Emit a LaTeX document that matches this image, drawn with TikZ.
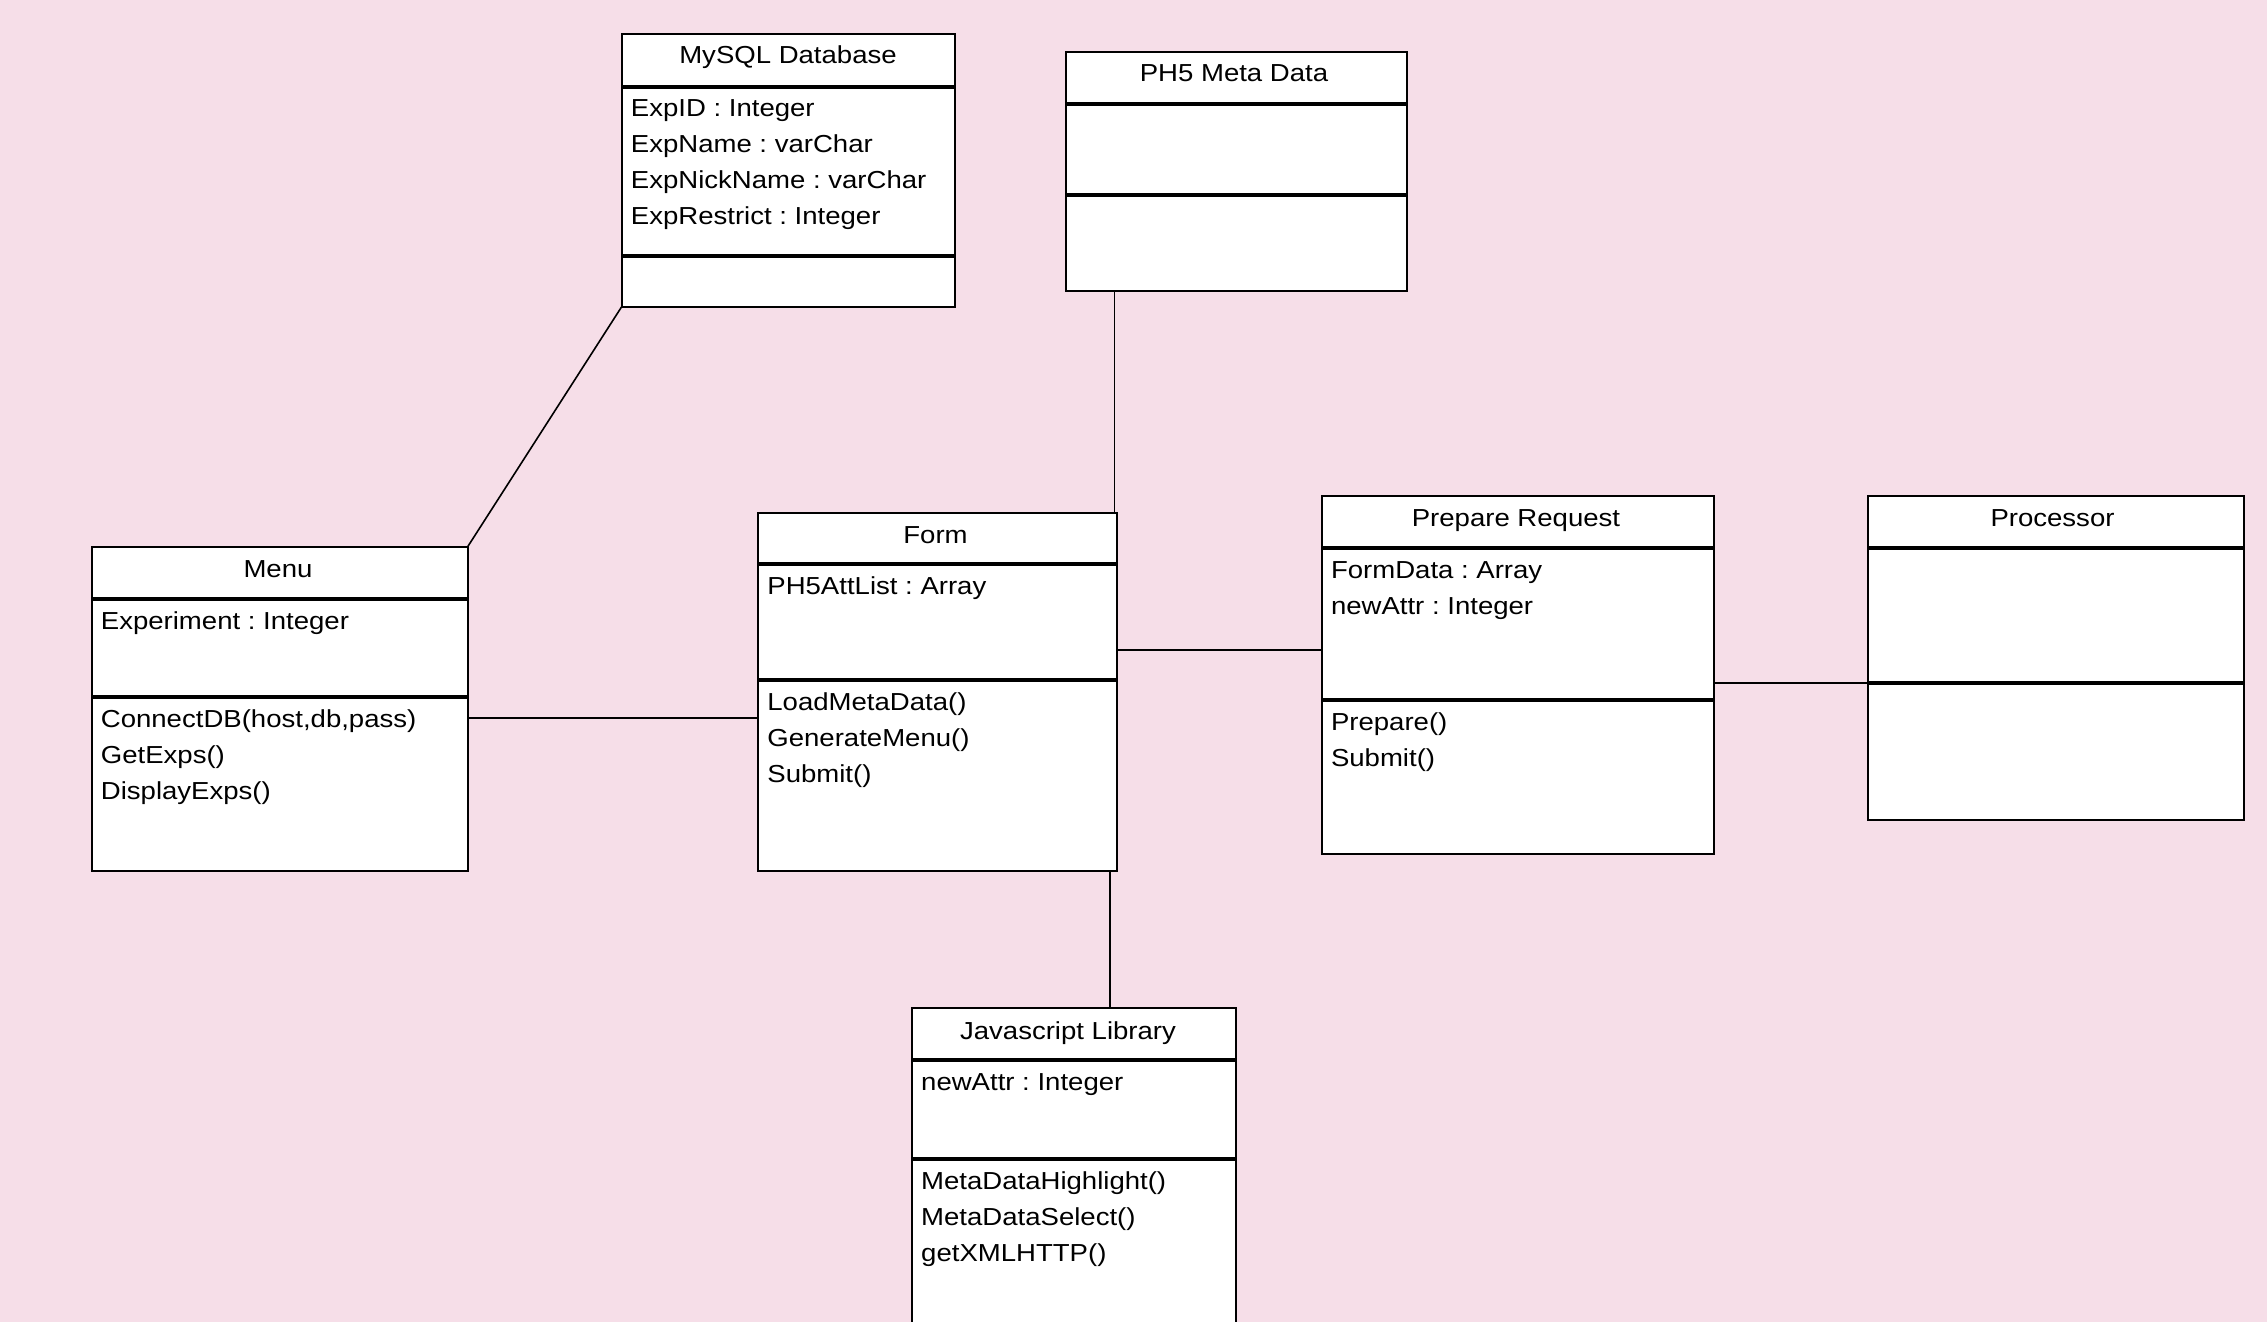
\documentclass[tikz,border=0pt]{standalone}
\usepackage{fontspec}
\setmainfont{Liberation Sans}[FakeStretch=1.12]
\usetikzlibrary{calc}
\definecolor{pagepink}{RGB}{246,222,232}
\frenchspacing
\begin{document}
\begin{tikzpicture}[x=0.5pt,y=-0.5pt,
  classbox/.style={draw=black, line width=1pt, fill=white, inner sep=0pt, outer sep=0pt, anchor=north west},
  divider/.style={line width=2pt},
  link/.style={line width=0.8pt},
  txt/.style={inner sep=0pt, font=\fontsize{12.3pt}{18pt}\selectfont},
  title/.style={txt, anchor=base},
  member/.style={txt, anchor=base west}]

% page
\fill[pagepink] (0,0) rectangle (2267,1322);
\clip (0,0) rectangle (2267,1322);

% class frames
\node[classbox, minimum width=166.5pt, minimum height=136.5pt] (mysql) at (621.5,34) {};
\node[classbox, minimum width=170.75pt, minimum height=119.3pt] (meta) at (1065.5,52) {};
\node[classbox, minimum width=188pt, minimum height=161.85pt] (menu) at (91.5,547) {};
\node[classbox, minimum width=179.4pt, minimum height=178.85pt] (form) at (758,513.3) {};
\node[classbox, minimum width=196.2pt, minimum height=178.85pt] (prep) at (1321.6,496) {};
\node[classbox, minimum width=188.1pt, minimum height=162pt] (proc) at (1867.6,496) {};
\node[classbox, minimum width=162.2pt, minimum height=200pt] (js) at (911.8,1008) {};

% compartment dividers
\foreach \b/\ya/\yb in {mysql/86.7/256, meta/103.7/195.5, menu/599/697.3,
                        form/564.3/680, prep/548.3/700, proc/548.3/683, js/1060/1159.3} {
  \draw[divider] (\b.west |- 0,\ya) -- (\b.east |- 0,\ya);
  \draw[divider] (\b.west |- 0,\yb) -- (\b.east |- 0,\yb);
}

% MySQL Database
\node[title] (mysqlT) at (788,64) {MySQL Database};
\node[member] (mysqlA1) at (630.5,116.7) {ExpID : Integer};
\node[member] (mysqlA2) at (630.5,152.7) {ExpName : varChar};
\node[member] (mysqlA3) at (630.5,188.7) {ExpNickName : varChar};
\node[member] (mysqlA4) at (630.5,224.7) {ExpRestrict : Integer};

% PH5 Meta Data
\node[title] (metaT) at (1234,82) {PH5 Meta Data};

% Menu
\node[title] (menuT) at (278,577) {Menu};
\node[member] (menuA1) at (100.5,629) {Experiment : Integer};
\node[member] (menuM1) at (100.5,727) {ConnectDB(host,db,pass)};
\node[member] (menuM2) at (100.5,763) {GetExps()};
\node[member] (menuM3) at (100.5,799) {DisplayExps()};

% Form
\node[title] (formT) at (935.5,543.5) {Form};
\node[member] (formA1) at (767,594.5) {PH5AttList : Array};
\node[member] (formM1) at (767,710) {LoadMetaData()};
\node[member] (formM2) at (767,746) {GenerateMenu()};
\node[member] (formM3) at (767,782) {Submit()};

% Prepare Request
\node[title] (prepT) at (1516,526) {Prepare Request};
\node[member] (prepA1) at (1330.6,578.5) {FormData : Array};
\node[member] (prepA2) at (1330.6,614.5) {newAttr : Integer};
\node[member] (prepM1) at (1330.6,730) {Prepare()};
\node[member] (prepM2) at (1330.6,766) {Submit()};

% Processor
\node[title] (procT) at (2052.5,526) {Processor};

% Javascript Library
\node[title] (jsT) at (1068,1039) {Javascript Library};
\node[member] (jsA1) at (920.8,1090) {newAttr : Integer};
\node[member] (jsM1) at (920.8,1189.3) {MetaDataHighlight()};
\node[member] (jsM2) at (920.8,1225.3) {MetaDataSelect()};
\node[member] (jsM3) at (920.8,1261.3) {getXMLHTTP()};

% associations
\coordinate (metaFoot) at ($(meta.south west)+(49,0)$);
\coordinate (formFoot) at ($(form.south east)+(-6.8,0)$);
\draw[link] (menu.north east) -- (mysql.south west);
\draw[link] (metaFoot) -- (metaFoot |- form.north);
\draw[link] (menu.east |- 0,717.7) -- (form.west |- 0,717.7);
\draw[link] (form.east |- 0,649.7) -- (prep.west |- 0,649.7);
\draw[link] (prep.east |- 0,683) -- (proc.west |- 0,683);
\draw[link] (formFoot) -- (formFoot |- js.north);

\end{tikzpicture}
\end{document}
